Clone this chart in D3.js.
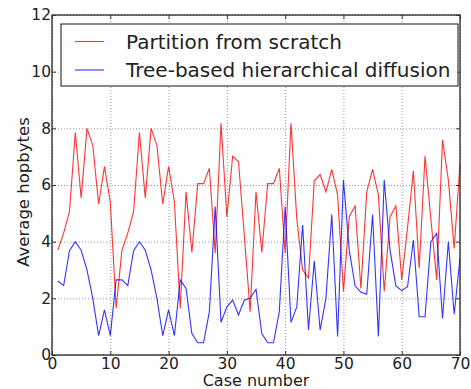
<!DOCTYPE html>
<html>
<head>
<meta charset="utf-8">
<script src="https://cdn.jsdelivr.net/npm/d3@7"></script>
<style>
  body { margin: 0; background: #fff; }
  text { font-family: "DejaVu Sans", sans-serif; fill: #222; }
  .grid line { stroke: #999; stroke-dasharray: 1,2; }
  .grid path { display: none; }
</style>
</head>
<body>
<svg id="chart" width="471" height="389"></svg>
<script>
// case numbers 1..70
const cases = d3.range(1, 71);

const scratch = [
  3.7, 4.3, 5.06, 7.85, 5.54, 8.0, 7.4, 5.33, 6.65, 5.4,
  1.65, 3.7, 4.3, 5.06, 7.85, 5.54, 8.0, 7.4, 5.33, 6.65,
  5.4, 1.65, 5.76, 3.62, 6.05, 6.05, 6.59, 3.59, 8.18, 4.88,
  7.02, 6.82, 4.2, 1.53, 5.76, 3.62, 6.05, 6.05, 6.59, 3.59,
  8.18, 4.8, 3.0, 2.72, 6.15, 6.37, 5.76, 6.55, 5.65, 2.24,
  4.88, 5.26, 2.35, 5.76, 6.55, 5.65, 2.24, 4.88, 5.26, 2.65,
  4.5, 6.5, 3.06, 7.02, 4.8, 2.65, 7.59, 6.18, 3.76, 6.76
];

const diffusion = [
  2.61, 2.45, 3.68, 4.0, 3.7, 3.0, 2.0, 0.68, 1.59, 0.68,
  2.65, 2.65, 2.45, 3.68, 4.0, 3.7, 3.0, 2.0, 0.68, 1.59,
  0.68, 2.65, 2.35, 0.76, 0.43, 0.43, 1.53, 5.24, 1.15, 1.7,
  1.94, 1.41, 1.94, 2.0, 2.32, 0.76, 0.43, 0.43, 1.53, 5.24,
  1.15, 1.7, 4.59, 0.88, 3.32, 0.88, 2.0, 4.96, 0.65, 6.18,
  3.7, 2.44, 2.21, 2.14, 4.96, 0.65, 6.18, 3.7, 2.44, 2.27,
  2.41, 4.06, 1.35, 1.35, 4.0, 4.29, 1.29, 4.0, 1.44, 3.41
];

const xTicks = [0, 10, 20, 30, 40, 50, 60, 70];
const yTicks = [0, 2, 4, 6, 8, 10, 12];

const seriesNames = ["Partition from scratch", "Tree-based hierarchical diffusion"];
const seriesColors = ["#ff0000", "#0000ff"];

const margin = {top: 15, right: 11, bottom: 34, left: 52};
const width = 471 - margin.left - margin.right;
const height = 389 - margin.top - margin.bottom;

const svg = d3.select("#chart")
  .append("g")
  .attr("transform", "translate(" + margin.left + "," + margin.top + ")");

const x = d3.scaleLinear().domain([0, 70]).range([0, width]);
const y = d3.scaleLinear().domain([0, 12]).range([height, 0]);

// grid
svg.append("g")
  .attr("class", "grid")
  .attr("transform", "translate(0," + height + ")")
  .call(d3.axisBottom(x).tickValues(xTicks).tickSize(-height).tickFormat(""));
svg.append("g")
  .attr("class", "grid")
  .call(d3.axisLeft(y).tickValues(yTicks).tickSize(-width).tickFormat(""));

// lines
const line = d3.line()
  .x((d, i) => x(cases[i]))
  .y(d => y(d));

[scratch, diffusion].forEach((s, k) => {
  svg.append("path")
    .datum(s)
    .attr("fill", "none")
    .attr("stroke", seriesColors[k])
    .attr("stroke-width", 1.1)
    .attr("stroke-opacity", 0.8)
    .attr("d", line);
});

// axes, ticks pointing inward
const axBottom = svg.append("g")
  .attr("transform", "translate(0," + height + ")")
  .call(d3.axisBottom(x).tickValues(xTicks).tickSize(-4).tickSizeOuter(0).tickPadding(3));
const axLeft = svg.append("g")
  .call(d3.axisLeft(y).tickValues(yTicks).tickSize(-4).tickSizeOuter(0).tickPadding(1));
svg.append("g")
  .call(d3.axisTop(x).tickValues(xTicks).tickSize(-4).tickSizeOuter(0).tickFormat(""));
svg.append("g")
  .attr("transform", "translate(" + width + ",0)")
  .call(d3.axisRight(y).tickValues(yTicks).tickSize(-4).tickSizeOuter(0).tickFormat(""));

svg.selectAll(".domain").remove();
svg.selectAll(".tick line").attr("stroke", "#333");
axBottom.selectAll("text").style("font-size", "15.5px").attr("fill", "#222");
axLeft.selectAll("text").style("font-size", "15.5px").attr("fill", "#222");

// frame
svg.append("rect")
  .attr("width", width)
  .attr("height", height)
  .attr("fill", "none")
  .attr("stroke", "#333")
  .attr("stroke-width", 1.4);

// axis titles
svg.append("text")
  .attr("x", width / 2)
  .attr("y", height + 31)
  .attr("text-anchor", "middle")
  .style("font-size", "16px")
  .text("Case number");

svg.append("text")
  .attr("transform", "translate(" + (-23) + "," + (height / 2 + 7) + ") rotate(-90)")
  .attr("text-anchor", "middle")
  .style("font-size", "16.5px")
  .text("Average hopbytes");

// legend
const legend = svg.append("g").attr("transform", "translate(9,9)");
legend.append("rect")
  .attr("width", 397)
  .attr("height", 62)
  .attr("fill", "#fff")
  .attr("stroke", "#111")
  .attr("stroke-width", 1);

seriesNames.forEach((name, k) => {
  const ly = 17.5 + k * 28.5;
  legend.append("line")
    .attr("x1", 14).attr("x2", 43)
    .attr("y1", ly).attr("y2", ly)
    .attr("stroke", seriesColors[k])
    .attr("stroke-width", 1.1)
    .attr("stroke-opacity", 0.8);
  legend.append("text")
    .attr("x", 65)
    .attr("y", ly)
    .attr("dy", "0.36em")
    .style("font-size", "20px")
    .text(name);
});
</script>
</body>
</html>
